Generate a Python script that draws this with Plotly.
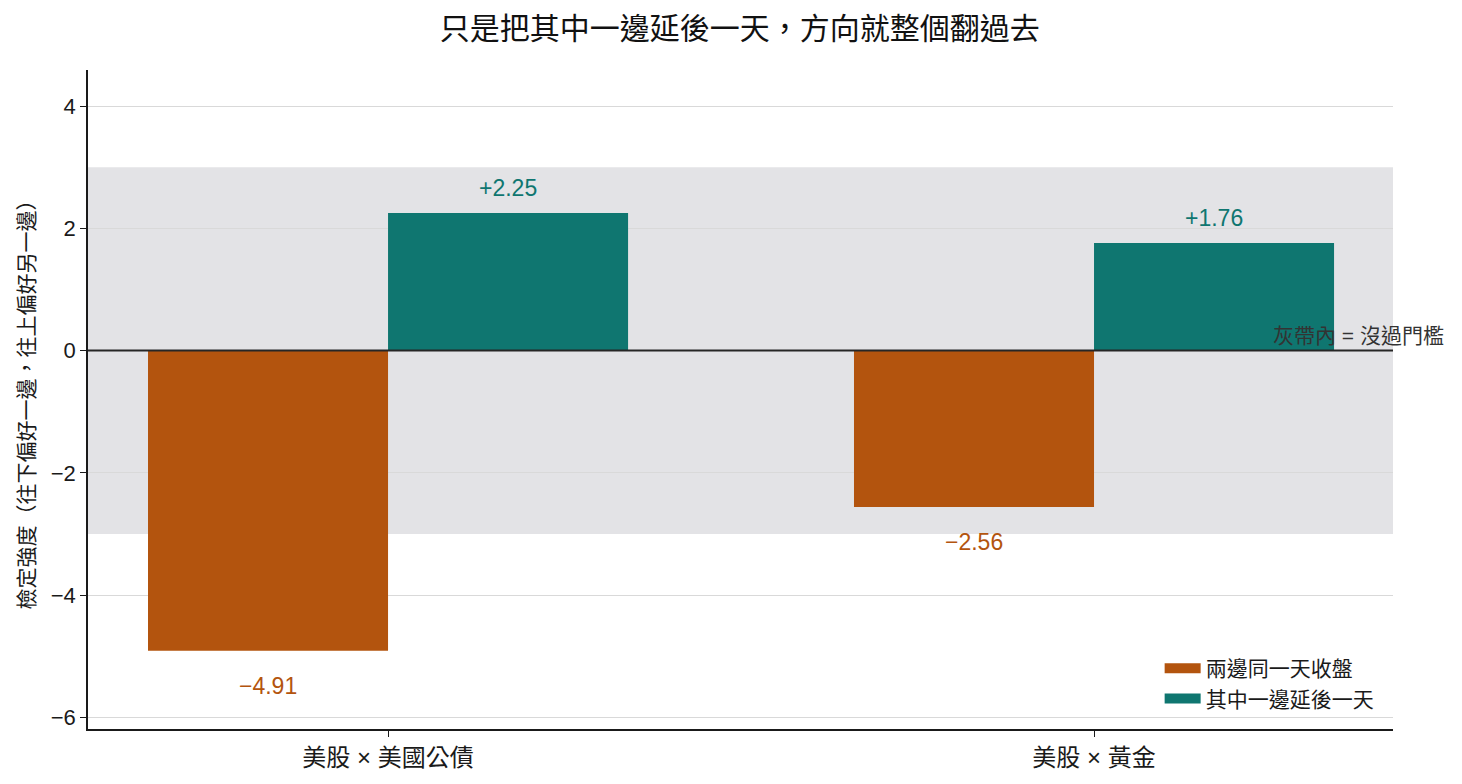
import plotly.graph_objects as go

categories = ["美股 × 美國公債", "美股 × 黃金"]
same_day = [-4.91, -2.56]
lagged = [2.25, 1.76]
series_names = ["兩邊同一天收盤", "其中一邊延後一天"]
threshold = 3.0

ORANGE = "#b3540e"
TEAL = "#0f7670"
FONT = "Arial, 'Liberation Sans', 'Noto Sans CJK TC', sans-serif"

def fmt(v):
    return ("+" if v > 0 else "\u2212") + f"{abs(v):.2f}"

fig = go.Figure()
fig.add_trace(go.Bar(x=categories, y=same_day, name=series_names[0],
                     marker=dict(color=ORANGE, line=dict(width=0)), showlegend=False))
fig.add_trace(go.Bar(x=categories, y=lagged, name=series_names[1],
                     marker=dict(color=TEAL, line=dict(width=0)), showlegend=False))
# legend entries with wide rectangular swatches
for nm, col in zip(series_names, (ORANGE, TEAL)):
    fig.add_trace(go.Scatter(x=[None], y=[None], mode="lines", name=nm,
                             line=dict(color=col, width=14)))

# threshold band
fig.add_shape(type="rect", xref="paper", yref="y", x0=0, x1=1,
              y0=-threshold, y1=threshold, fillcolor="rgba(200,200,206,0.5)",
              line=dict(width=0), layer="below")
# zero line
fig.add_shape(type="line", xref="paper", yref="y", x0=0, x1=1, y0=0, y1=0,
              line=dict(color="#262626", width=2), layer="above")

annotations = []
offset = 0.17
for i, c in enumerate(categories):
    for vals, col, dx in ((same_day, ORANGE, -offset), (lagged, TEAL, offset)):
        v = vals[i]
        annotations.append(dict(
            x=i + dx, y=v, xref="x", yref="y", text=fmt(v), showarrow=False,
            font=dict(size=23, color=col, family=FONT),
            yshift=25 if v > 0 else -35, yanchor="middle"))

annotations.append(dict(x=1.0405, y=0, xref="paper", yref="y",
                        text="灰帶內 = 沒過門檻", showarrow=False,
                        xanchor="right", yanchor="bottom", yshift=2,
                        font=dict(size=21, color="#333333", family=FONT)))

fig.update_layout(
    width=1462, height=784,
    margin=dict(l=88, r=69, t=70, b=55),
    paper_bgcolor="white", plot_bgcolor="white",
    barmode="group", bargap=0.32, bargroupgap=0,
    font=dict(family=FONT, color="#1a1a1a"),
    title=dict(text="只是把其中一邊延後一天，方向就整個翻過去",
               x=0.506, xanchor="center", y=0.964, yanchor="middle",
               font=dict(size=30, color="#111111", family=FONT)),
    annotations=annotations,
    legend=dict(x=0.989, y=0.015, xanchor="right", yanchor="bottom",
                bgcolor="rgba(255,255,255,0)", font=dict(size=21, family=FONT),
                itemwidth=36, tracegroupgap=0),
    showlegend=True,
)
fig.update_xaxes(range=[-0.425, 1.4235], showline=True, linecolor="#1a1a1a",
                 linewidth=1.5, ticks="outside", ticklen=6, tickcolor="#1a1a1a",
                 tickfont=dict(size=24, family=FONT, color="#1a1a1a"),
                 showgrid=False)
fig.update_yaxes(range=[-6.19, 4.59], showline=True, linecolor="#1a1a1a",
                 linewidth=1.5, ticks="outside", ticklen=6, tickcolor="#1a1a1a",
                 tickvals=[-6, -4, -2, 0, 2, 4],
                 tickfont=dict(size=22, family=FONT, color="#1a1a1a"),
                 showgrid=True, gridcolor="#d9d9d9", gridwidth=1,
                 zeroline=False,
                 title=dict(text="檢定強度（往下偏好一邊，往上偏好另一邊）",
                            font=dict(size=21, family=FONT, color="#1a1a1a"),
                            standoff=10))

fig.write_html("out.html")
